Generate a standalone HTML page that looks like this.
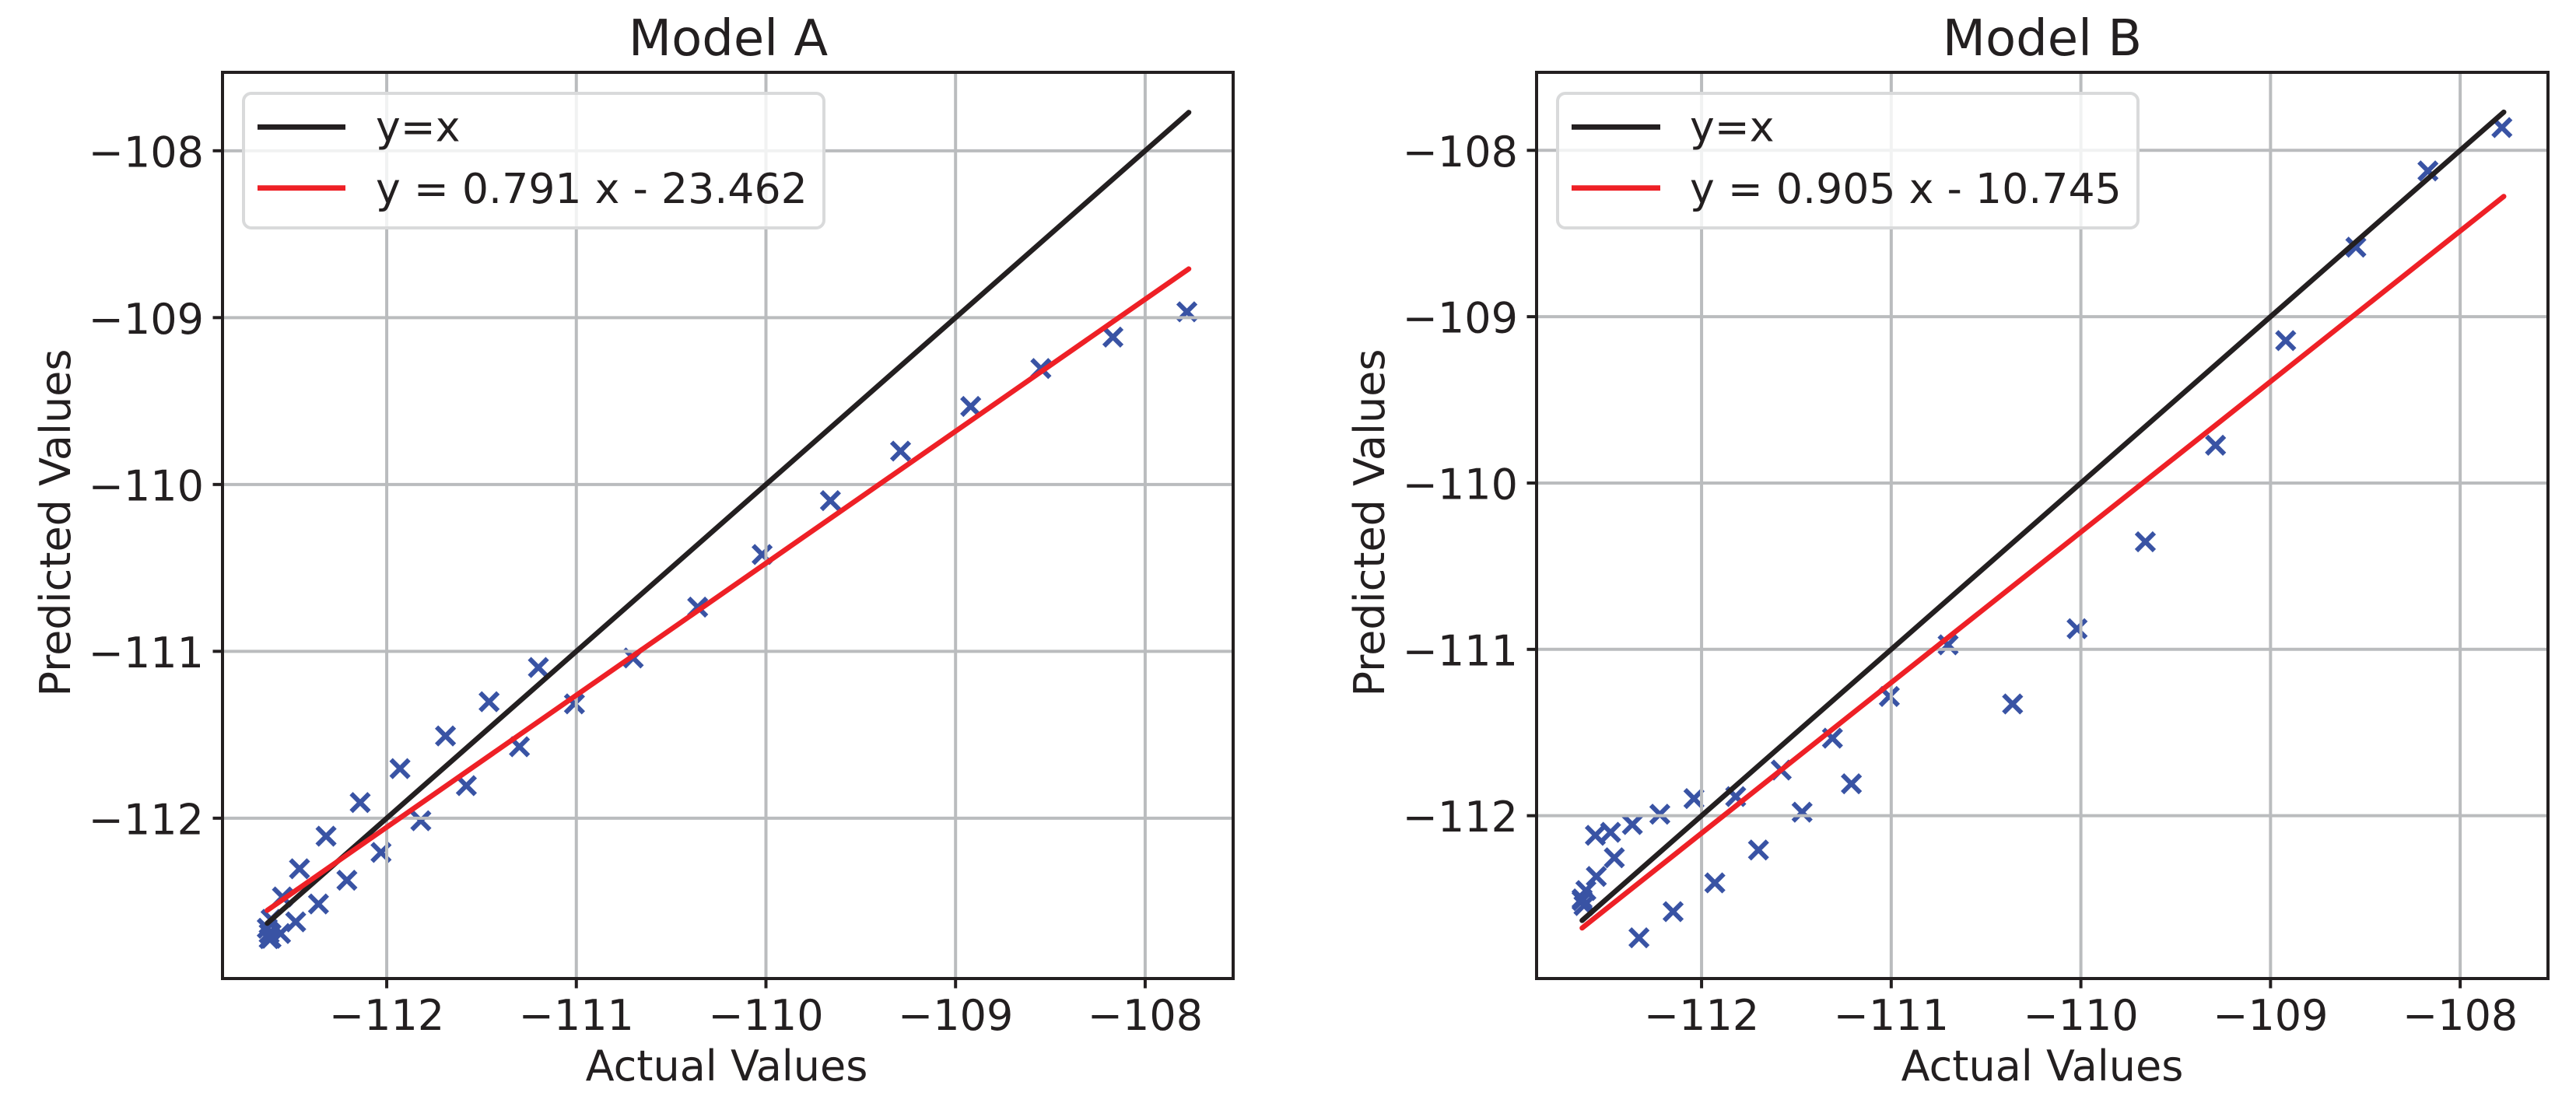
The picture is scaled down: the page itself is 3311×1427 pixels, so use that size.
<!DOCTYPE html>
<html lang="en">
<head>
<meta charset="utf-8">
<title>Model A and Model B: Predicted vs Actual Values</title>
<style>
html,body{margin:0;padding:0;background:#fff;width:3311px;height:1427px;overflow:hidden}
svg{display:block}
text{font-family:"DejaVu Sans","Liberation Sans",sans-serif;fill:#231f20}
.tick{font-size:54px}
.lab{font-size:54px}
.leg{font-size:53.7px}
.ttl{font-size:64px}
</style>
</head>
<body>
<svg id="chart" xmlns="http://www.w3.org/2000/svg" width="3311" height="1427" viewBox="0 0 3311 1427">
  <rect x="0" y="0" width="3311" height="1427" fill="#fff"/>

  <g id="panel-a">
    <text class="ttl" x="936" y="71" text-anchor="middle">Model A</text>
    <g id="a-plot"></g>
    <g>
      <rect x="313" y="120" width="746" height="173" rx="10" ry="10" fill="#fff" fill-opacity="0.8" stroke="#d9dadb" stroke-width="4"/>
      <line x1="331" y1="163.3" x2="444" y2="163.3" stroke="#231f20" stroke-width="6.8"/>
      <text class="leg" x="483" y="181.7">y=x</text>
      <line x1="331" y1="241.7" x2="444" y2="241.7" stroke="#ee2026" stroke-width="6.8"/>
      <text class="leg" x="483" y="261">y = 0.791 x - 23.462</text>
    </g>
    <text class="lab" x="934" y="1389" text-anchor="middle">Actual Values</text>
    <text class="lab" x="0" y="0" text-anchor="middle" transform="translate(90 672) rotate(-90)">Predicted Values</text>
  </g>

  <g id="panel-b">
    <text class="ttl" x="2625" y="71" text-anchor="middle">Model B</text>
    <g id="b-plot"></g>
    <g>
      <rect x="2002" y="120" width="746" height="173" rx="10" ry="10" fill="#fff" fill-opacity="0.8" stroke="#d9dadb" stroke-width="4"/>
      <line x1="2020" y1="163.3" x2="2134" y2="163.3" stroke="#231f20" stroke-width="6.8"/>
      <text class="leg" x="2172" y="181.7">y=x</text>
      <line x1="2020" y1="241.7" x2="2134" y2="241.7" stroke="#ee2026" stroke-width="6.8"/>
      <text class="leg" x="2172" y="261">y = 0.905 x - 10.745</text>
    </g>
    <text class="lab" x="2625" y="1389" text-anchor="middle">Actual Values</text>
    <text class="lab" x="0" y="0" text-anchor="middle" transform="translate(1779 672) rotate(-90)">Predicted Values</text>
  </g>
</svg>

<script>
// Shared tick values and labels
const xTickValues = [-112, -111, -110, -109, -108];
const xTickLabels = ["\u2212112", "\u2212111", "\u2212110", "\u2212109", "\u2212108"];
const yTickValues = [-108, -109, -110, -111, -112];
const yTickLabels = ["\u2212108", "\u2212109", "\u2212110", "\u2212111", "\u2212112"];

// Identity and fit line extent (actual values)
const lineExtent = [-112.63, -107.77];

// Model A
const modelAActual = [-107.78, -108.17, -108.55, -108.92, -109.29, -109.66, -110.02, -110.36, -110.70, -111.01, -111.20, -111.30, -111.46, -111.58, -111.69, -111.82, -111.93, -112.03, -112.14, -112.21, -112.32, -112.36, -112.46, -112.48, -112.55, -112.56, -112.61, -112.62, -112.62, -112.63, -112.61];
const modelAPredicted = [-108.965, -109.117, -109.305, -109.532, -109.80, -110.097, -110.42, -110.735, -111.04, -111.315, -111.097, -111.572, -111.302, -111.805, -111.507, -112.015, -111.703, -112.205, -111.906, -112.372, -112.108, -112.514, -112.303, -112.621, -112.472, -112.691, -112.606, -112.691, -112.722, -112.66, -112.72];
const modelAFit = [0.791, -23.462];

// Model B
const modelBActual = [-107.78, -108.17, -108.55, -108.92, -109.29, -109.66, -110.02, -110.36, -110.70, -111.01, -111.21, -111.31, -111.47, -111.58, -111.70, -111.82, -111.93, -112.04, -112.15, -112.22, -112.33, -112.365, -112.46, -112.48, -112.555, -112.56, -112.61, -112.63, -112.62, -112.63];
const modelBPredicted = [-107.863, -108.124, -108.582, -109.144, -109.773, -110.353, -110.876, -111.328, -110.973, -111.283, -111.808, -111.534, -111.979, -111.726, -112.206, -111.885, -112.404, -111.897, -112.577, -111.991, -112.734, -112.053, -112.253, -112.10, -112.365, -112.118, -112.45, -112.51, -112.54, -112.50];
const modelBFit = [0.905, -10.745];

const SVG_NS = "http://www.w3.org/2000/svg";
const INK = "#231f20", RED = "#ee2026", BLUE = "#3953a4", GRID = "#babcbe";

function make(tag, parent, props) {
  const node = document.createElementNS(SVG_NS, tag);
  for (const k in props) node.setAttribute(k, props[k]);
  parent.appendChild(node);
  return node;
}

function linearScale(domain, range) {
  return function (v) {
    return range[0] + (v - domain[0]) / (domain[1] - domain[0]) * (range[1] - range[0]);
  };
}

function drawPanel(host, box, xDomain, yDomain, actual, predicted, fit) {
  const sx = linearScale(xDomain, [box.left, box.right]);
  const sy = linearScale(yDomain, [box.bottom, box.top]);

  // Scatter sits beneath the grid
  actual.forEach(function (xv, i) {
    const px = sx(xv), py = sy(predicted[i]), h = 11.5;
    const m = make("path", host, {
      d: "M" + (px - h) + " " + (py - h) + "L" + (px + h) + " " + (py + h) +
         "M" + (px - h) + " " + (py + h) + "L" + (px + h) + " " + (py - h),
      stroke: BLUE, "stroke-width": 6, fill: "none"
    });
    
    
  });

  // Vertical grid, ticks and labels
  xTickValues.forEach(function (v, i) {
    const px = sx(v);
    const g = make("line", host, { x1: px, x2: px, y1: box.top, y2: box.bottom, stroke: GRID, "stroke-width": 4 });
    
    
    const t = make("line", host, { x1: px, x2: px, y1: box.bottom, y2: box.bottom + 12.5, stroke: INK, "stroke-width": 4 });
    
    
    const l = make("text", host, { x: px, y: 1324, "text-anchor": "middle", "class": "tick" });
    l.textContent = xTickLabels[i];
    
    
  });

  // Horizontal grid, ticks and labels
  yTickValues.forEach(function (v, i) {
    const py = sy(v);
    const g = make("line", host, { x1: box.left, x2: box.right, y1: py, y2: py, stroke: GRID, "stroke-width": 4 });
    
    
    const t = make("line", host, { x1: box.left - 12.5, x2: box.left, y1: py, y2: py, stroke: INK, "stroke-width": 4 });
    
    
    const l = make("text", host, { x: box.left - 24, y: py + 20.5, "text-anchor": "end", "class": "tick" });
    l.textContent = yTickLabels[i];
    
    
  });

  // y = x reference line
  const ref = make("line", host, {
    x1: sx(lineExtent[0]), y1: sy(lineExtent[0]),
    x2: sx(lineExtent[1]), y2: sy(lineExtent[1]),
    stroke: INK, "stroke-width": 6.6, "stroke-linecap": "round"
  });
  
  

  // Fitted regression line
  const fitLine = make("line", host, {
    x1: sx(lineExtent[0]), y1: sy(fit[0] * lineExtent[0] + fit[1]),
    x2: sx(lineExtent[1]), y2: sy(fit[0] * lineExtent[1] + fit[1]),
    stroke: RED, "stroke-width": 6.6, "stroke-linecap": "round"
  });
  
  

  // Axes frame
  const frame = make("rect", host, {
    x: box.left, y: box.top, width: box.right - box.left, height: box.bottom - box.top,
    fill: "none", stroke: INK, "stroke-width": 4
  });
  
  
}

drawPanel(document.getElementById("a-plot"),
  { left: 286, right: 1585, top: 93, bottom: 1258 },
  [-112.866, -107.536], [-112.961, -107.53],
  modelAActual, modelAPredicted, modelAFit);

drawPanel(document.getElementById("b-plot"),
  { left: 1975, right: 3275, top: 93, bottom: 1258 },
  [-112.87, -107.537], [-112.979, -107.531],
  modelBActual, modelBPredicted, modelBFit);
</script>
</body>
</html>
